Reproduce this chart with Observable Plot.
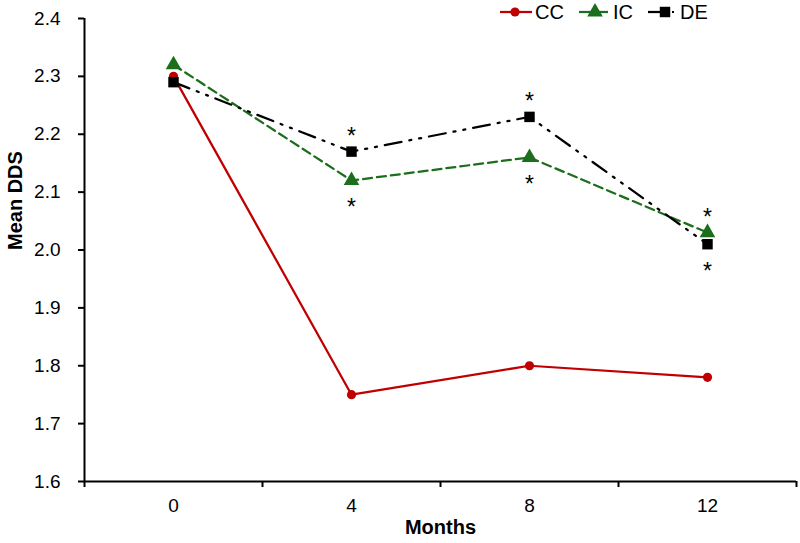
<!DOCTYPE html>
<html>
<head>
<meta charset="utf-8">
<script src="https://cdn.jsdelivr.net/npm/d3@7"></script>
<script src="https://cdn.jsdelivr.net/npm/@observablehq/plot@0.6"></script>
<style>
  body { margin: 0; background: #fff; font-family: "Liberation Sans", Arial, sans-serif; }
  #wrap { position: relative; width: 800px; height: 543px; }
  #legend { position: absolute; left: 0; top: 0; }
</style>
</head>
<body>
<div id="wrap"></div>
<script>
const months = ["0", "4", "8", "12"];
const seriesNames = ["CC", "IC", "DE"];
const ccValues = [2.30, 1.75, 1.80, 1.78];
const icValues = [2.32, 2.12, 2.16, 2.03];
const deValues = [2.29, 2.17, 2.23, 2.01];
const yTicks = [1.6, 1.7, 1.8, 1.9, 2.0, 2.1, 2.2, 2.3, 2.4];
const sigMonths = ["4", "4", "8", "8", "12", "12"];
const sigSeries = ["DE", "IC", "DE", "IC", "IC", "DE"];
const sigSides = ["above", "below", "above", "below", "above", "below"];

const colors = {CC: "#C00000", IC: "#1B6E1B", DE: "#000000"};
const dashes = {CC: null, IC: "9,5", DE: "17,8,2,8,2,8"};
const symbols = {CC: "circle", IC: "triangle", DE: "square"};
const radii = {CC: 4.6, IC: 5.8, DE: 5.9};
const valuesBy = {CC: ccValues, IC: icValues, DE: deValues};

const rows = [];
for (const s of seriesNames) {
  valuesBy[s].forEach((v, i) => rows.push({series: s, i, month: months[i], value: v}));
}
const sig = sigMonths.map((m, k) => {
  const i = months.indexOf(m);
  return {i, value: valuesBy[sigSeries[k]][i], side: sigSides[k]};
});

const idx = months.map((_, i) => i);
const bounds = d3.range(months.length + 1).map(i => i - 0.5);

const marks = [
  Plot.axisY({ticks: yTicks, tickFormat: d => d.toFixed(1), tickSize: 6, tickPadding: 18,
    fontSize: 19, strokeWidth: 2, label: null, color: "#000"}),
  Plot.axisX({ticks: bounds, tickFormat: () => "", tickSize: 6, strokeWidth: 2, label: null}),
  Plot.axisX({ticks: idx, tickFormat: i => months[i], tickSize: 0, tickPadding: 17,
    fontSize: 19, label: null, color: "#000"}),
  Plot.ruleY([1.6], {stroke: "#000", strokeWidth: 2}),
  Plot.ruleX([-0.5], {stroke: "#000", strokeWidth: 2}),
];
for (const s of seriesNames) {
  const d = rows.filter(r => r.series === s);
  marks.push(Plot.line(d, {x: "i", y: "value", stroke: colors[s], strokeWidth: 2.25,
    strokeDasharray: dashes[s]}));
}
for (const s of seriesNames) {
  const d = rows.filter(r => r.series === s);
  marks.push(Plot.dot(d, {x: "i", y: "value", symbol: () => symbols[s], r: radii[s],
    fill: colors[s], stroke: "none"}));
}
marks.push(Plot.text(sig.filter(d => d.side === "above"), {x: "i", y: "value", text: () => "*",
  dy: -15, fontSize: 23, fill: "#000"}));
marks.push(Plot.text(sig.filter(d => d.side === "below"), {x: "i", y: "value", text: () => "*",
  dy: 27, fontSize: 23, fill: "#000"}));
marks.push(Plot.text(["Months"], {frameAnchor: "bottom", dy: 52, text: d => d,
  fontSize: 20, fontWeight: "bold", fill: "#000"}));
marks.push(Plot.text(["Mean DDS"], {frameAnchor: "left", dx: -69, rotate: -90, text: d => d,
  fontSize: 20, fontWeight: "bold", fill: "#000"}));

const chart = Plot.plot({
  width: 800,
  height: 543,
  marginLeft: 84,
  marginRight: 4,
  marginTop: 18,
  marginBottom: 62,
  style: {fontFamily: "'Liberation Sans', Arial, sans-serif", background: "#fff", color: "#000"},
  x: {type: "linear", domain: [-0.5, months.length - 0.5], axis: null},
  y: {domain: [1.6, 2.4], axis: null},
  marks
});
const wrap = document.getElementById("wrap");
wrap.appendChild(chart);

// legend overlay
const lg = d3.create("svg").attr("id", "legend").attr("width", 800).attr("height", 30)
  .style("font-family", "'Liberation Sans', Arial, sans-serif");
const items = [
  {s: "CC", x0: 500, x1: 532, mx: 515, tx: 535, label: "CC"},
  {s: "IC", x0: 579, x1: 608, mx: 595, tx: 613, label: "IC"},
  {s: "DE", x0: 648, x1: 662, mx: 665, tx: 680, label: "DE"}
];
const y0 = 12;
for (const it of items) {
  lg.append("line").attr("x1", it.x0).attr("x2", it.x1).attr("y1", y0).attr("y2", y0)
    .attr("stroke", colors[it.s]).attr("stroke-width", 2.25);
  const sym = {circle: d3.symbolCircle, triangle: d3.symbolTriangle, square: d3.symbolSquare}[symbols[it.s]];
  lg.append("path").attr("d", d3.symbol(sym, Math.PI * radii[it.s] ** 2)())
    .attr("transform", `translate(${it.mx},${y0})`).attr("fill", colors[it.s]);
  if (it.s === "DE") {
    lg.append("rect").attr("x", 672).attr("y", y0 - 1).attr("width", 2).attr("height", 2).attr("fill", "#000");
  }
  lg.append("text").attr("x", it.tx).attr("y", y0).attr("dy", "0.36em")
    .attr("font-size", 20).attr("fill", "#000").text(it.label);
}
wrap.appendChild(lg.node());
</script>
</body>
</html>
